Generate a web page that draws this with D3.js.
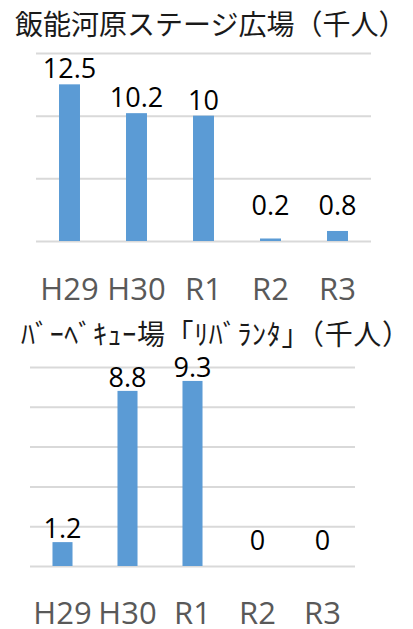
<!DOCTYPE html>
<html>
<head>
<meta charset="utf-8">
<script src="https://cdn.jsdelivr.net/npm/d3@7"></script>
<style>
  html, body { margin: 0; padding: 0; background: #fff; }
  svg { display: block; }
</style>
</head>
<body>
<svg id="chart" width="413" height="629"></svg>
<script>
// Fiscal years shown on both charts
const years = ["H29", "H30", "R1", "R2", "R3"];

// Visitors to the Hanno riverside stage plaza (thousands)
const stageTitle = "飯能河原ステージ広場（千人）";
const stageVisitors = [12.5, 10.2, 10, 0.2, 0.8];
const stageTicks = [0, 5, 10, 15];

// Visitors to the barbecue site "Rivaranta" (thousands)
const bbqTitle = "ﾊﾞｰﾍﾞｷｭｰ場「ﾘﾊﾞﾗﾝﾀ」（千人）";
const bbqVisitors = [1.2, 8.8, 9.3, 0, 0];
const bbqTicks = [0, 2, 4, 6, 8, 10];

const svg = d3.select("#chart");
const latin = "'Open Sans', 'Noto Sans', sans-serif";
const cjk = "'Noto Sans CJK JP', sans-serif";

function drawPanel(opt) {
  const g = svg.append("g");

  const title = g.append("text")
    .attr("x", opt.titleX)
    .attr("y", opt.titleY)
    .attr("font-family", cjk)
    .attr("font-size", 28)
    .attr("fill", "#1a1a1a")
    .text(opt.title);
  if (opt.titleW) {
    title.attr("textLength", opt.titleW).attr("lengthAdjust", "spacing");
  }

  const x = d3.scaleBand()
    .domain(years)
    .range([opt.left, opt.right])
    .paddingInner(opt.pad)
    .paddingOuter(opt.pad / 2);

  const y = d3.scaleLinear()
    .domain([0, opt.max])
    .range([opt.bottom, opt.top]);

  // horizontal gridlines
  const grid = g.append("g")
    .attr("transform", `translate(${opt.left},0)`)
    .call(d3.axisLeft(y).tickValues(opt.ticks)
      .tickSize(-(opt.right - opt.left)).tickFormat(""));
  grid.select(".domain").remove();
  grid.selectAll(".tick line")
    .attr("stroke", "#d9d9d9")
    .attr("stroke-width", 2);

  // bars
  g.selectAll("rect.bar")
    .data(opt.values)
    .join("rect")
    .attr("class", "bar")
    .attr("x", (d, i) => x(years[i]))
    .attr("width", x.bandwidth())
    .attr("y", d => y(d))
    .attr("height", d => y(0) - y(d))
    .attr("fill", "#5b9bd5");

  // value labels
  g.selectAll("text.val")
    .data(opt.values)
    .join("text")
    .attr("class", "val")
    .attr("x", (d, i) => x(years[i]) + x.bandwidth() / 2)
    .attr("y", d => Math.min(y(d) - opt.gap, y(0) - opt.minLift))
    .attr("text-anchor", "middle")
    .attr("font-family", latin)
    .attr("font-size", 27)
    .attr("fill", "#000")
    .text(d => String(d));

  // category axis labels
  const xa = g.append("g")
    .attr("transform", `translate(0,${opt.labelY})`)
    .call(d3.axisBottom(x).tickSize(0).tickPadding(0));
  xa.select(".domain").remove();
  xa.selectAll("text")
    .attr("dy", 0)
    .attr("font-family", latin)
    .attr("font-size", 31)
    .attr("fill", "#595959");
}

drawPanel({
  title: stageTitle, titleX: 15, titleY: 35, titleW: 0,
  values: stageVisitors, ticks: stageTicks, max: 15,
  left: 36, right: 371, top: 53, bottom: 241, pad: 0.687,
  gap: 6, minLift: 26, labelY: 300
});

drawPanel({
  title: bbqTitle, titleX: 21, titleY: 345, titleW: 389,
  values: bbqVisitors, ticks: bbqTicks, max: 10,
  left: 30, right: 355, top: 367, bottom: 566, pad: 0.692,
  gap: 4, minLift: 16, labelY: 624
});
</script>
</body>
</html>
